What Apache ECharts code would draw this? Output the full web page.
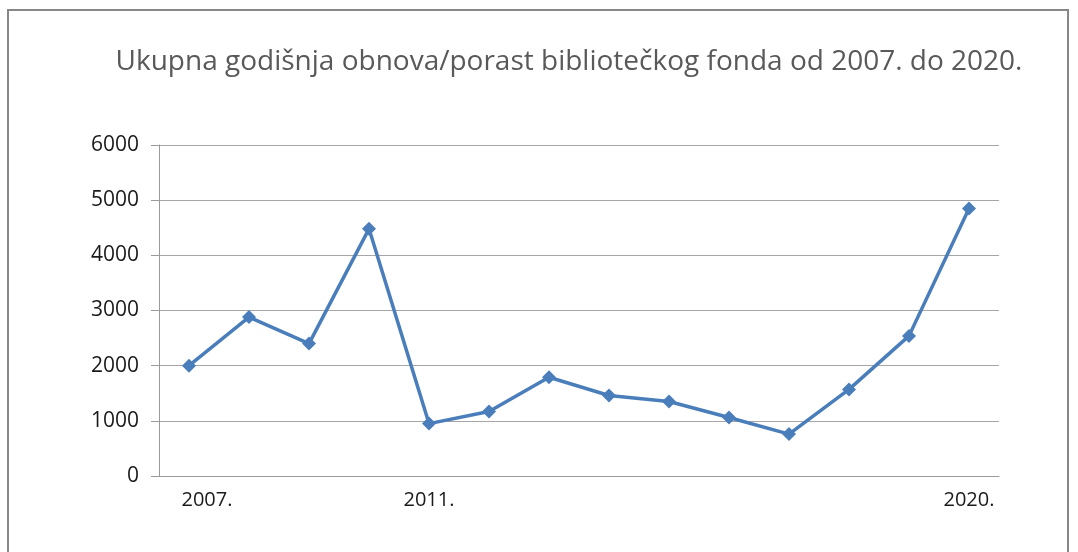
<!DOCTYPE html>
<html>
<head>
<meta charset="utf-8">
<script src="https://cdn.jsdelivr.net/npm/echarts@6/dist/echarts.min.js"></script>
<style>
  html, body { margin: 0; padding: 0; background: #fff; }
  #chart { width: 1078px; height: 552px; }
</style>
</head>
<body>
<div id="chart"></div>
<script>
// podaci
var godine = ['2007.', '2008.', '2009.', '2010.', '2011.', '2012.', '2013.',
              '2014.', '2015.', '2016.', '2017.', '2018.', '2019.', '2020.'];
var obnova = [2000, 2880, 2400, 4480, 950, 1170, 1790, 1460, 1350, 1060, 760, 1570, 2540, 4850];
// koje godine imaju oznaku na osi
var prikazaneGodine = [0, 4, 13];

var myChart = echarts.init(document.getElementById('chart'));

var option = {
  animation: false,
  title: {
    text: 'Ukupna godišnja obnova/porast bibliotečkog fonda od 2007. do 2020.',
    left: 564,
    textAlign: 'center',
    top: 43,
    textStyle: {
      fontFamily: 'Open Sans',
      fontWeight: 'normal',
      fontSize: 28,
      color: '#595959'
    }
  },
  // okvir oko grafikona
  graphic: [{
    type: 'rect',
    shape: { x: 8, y: 10, width: 1060, height: 600 },
    style: { fill: 'none', stroke: '#878787', lineWidth: 2 }
  }],
  grid: {
    left: 159,
    right: 79,
    top: 145,
    bottom: 76
  },
  xAxis: {
    type: 'category',
    data: godine,
    axisLine: { lineStyle: { color: '#9a9a9a', width: 1 } },
    axisTick: { show: false },
    axisLabel: {
      margin: 14,
      interval: function (i) { return prikazaneGodine.indexOf(i) >= 0; },
      formatter: function (v, i) {
        return i === 0 ? '{prvi|' + v + '}' : v;
      },
      rich: {
        prvi: { padding: [0, 0, 0, 36], fontFamily: 'Open Sans', fontSize: 20, color: '#1a1a1a' }
      },
      fontFamily: 'Open Sans',
      fontSize: 20,
      color: '#1a1a1a'
    }
  },
  yAxis: {
    type: 'value',
    min: 0,
    max: 6000,
    interval: 1000,
    axisLine: { show: true, lineStyle: { color: '#9a9a9a', width: 1 } },
    axisTick: { show: true, length: 8, lineStyle: { color: '#9a9a9a' } },
    splitLine: { lineStyle: { color: '#a6a6a6', width: 1 } },
    axisLabel: {
      margin: 20,
      formatter: function (v) { return String(v); },
      fontFamily: 'Open Sans',
      fontSize: 21,
      color: '#1a1a1a'
    }
  },
  series: [{
    name: 'Obnova',
    type: 'line',
    data: obnova,
    symbol: 'diamond',
    symbolSize: 14,
    lineStyle: { color: '#4a7ebb', width: 3.5 },
    itemStyle: { color: '#4a7ebb' }
  }]
};

myChart.setOption(option);
</script>
</body>
</html>
